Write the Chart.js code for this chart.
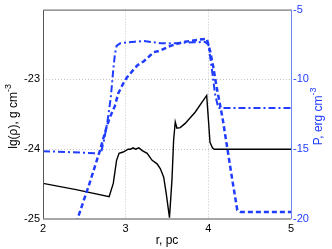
<!DOCTYPE html>
<html>
<head>
<meta charset="utf-8">
<script src="https://cdn.jsdelivr.net/npm/chart.js@4/dist/chart.umd.min.js"></script>
<style>
  body { margin: 0; background: #fff; }
  canvas { display: block; }
</style>
</head>
<body>
<canvas id="chart" width="332" height="249"></canvas>
<script>
// Density profile, lg(rho) vs r (left axis)
const densR  = [2.00, 2.40, 2.80, 2.85, 2.89, 2.92, 2.97, 3.03, 3.06, 3.09, 3.12, 3.14, 3.16, 3.20, 3.26, 3.32, 3.38, 3.42, 3.46, 3.49, 3.53, 3.56, 3.58, 3.60, 3.62, 3.66, 3.72, 3.84, 3.98, 4.00, 4.02, 4.05, 4.07, 5.00];
const densLg = [-24.49, -24.58, -24.68, -24.49, -24.16, -24.06, -24.04, -24.00, -24.00, -23.98, -24.00, -23.99, -23.98, -24.02, -24.06, -24.16, -24.21, -24.28, -24.40, -24.63, -24.98, -24.44, -23.87, -23.61, -23.70, -23.69, -23.63, -23.47, -23.23, -23.56, -23.90, -23.98, -24.00, -24.00];

// Pressure, dashed curve (right axis)
const dashR = [2.40, 2.56, 2.69, 2.77, 2.81, 2.87, 2.91, 2.97, 3.01, 3.07, 3.14, 3.22, 3.34, 3.42, 3.52, 3.62, 3.72, 3.82, 3.90, 3.98, 4.02, 4.06, 4.10, 4.17, 4.23, 4.29, 4.35, 4.39, 5.00];
const dashP = [-20.3, -17.5, -15.07, -13.4, -12.7, -11.9, -11.0, -10.3, -9.9, -9.48, -9.0, -8.7, -8.05, -7.93, -7.65, -7.45, -7.3, -7.21, -7.15, -7.09, -7.93, -9.12, -10.55, -12.7, -14.95, -17.2, -19.36, -19.5, -19.5];

// Pressure, dash-dot curve (right axis)
const dotR = [2.00, 2.35, 2.70, 2.74, 2.78, 2.82, 2.85, 2.87, 2.89, 2.93, 3.01, 3.11, 3.22, 3.32, 3.42, 3.52, 3.62, 3.72, 3.82, 3.96, 4.00, 4.04, 4.08, 4.12, 5.00];
const dotP = [-15.14, -15.22, -15.3, -14.3, -13.0, -11.3, -9.3, -8.2, -7.6, -7.42, -7.36, -7.30, -7.25, -7.33, -7.41, -7.42, -7.41, -7.36, -7.34, -7.32, -7.5, -9.12, -11.0, -12.05, -12.05];

const xTicks = [2, 3, 4, 5];
const leftTicks = [-25, -24, -23];
const rightTicks = [-20, -15, -10, -5];

const BLUE = '#1f3cff';
const FONT = '"Liberation Sans", Arial, sans-serif';

function pts(xs, ys) {
    return xs.map((x, i) => ({ x: x, y: ys[i] }));
}

function gridColor(ends) {
    return ctx => (ctx.tick && ends.includes(ctx.tick.value)) ? 'rgba(0,0,0,0)' : '#c4c4c4';
}

// frame and axis titles with superscripts
const framePlugin = {
    id: 'frame',
    afterDraw(chart) {
        const c = chart.ctx;
        const a = chart.chartArea;
        c.save();
        c.lineWidth = 1;
        c.strokeStyle = '#555';
        c.beginPath();
        c.moveTo(a.left + 0.5, a.bottom);
        c.lineTo(a.left + 0.5, a.top + 0.5);
        c.lineTo(a.right, a.top + 0.5);
        c.stroke();
        c.strokeStyle = '#8a8a8a';
        c.lineWidth = 1.5;
        c.beginPath();
        c.moveTo(a.left, a.bottom);
        c.lineTo(a.right, a.bottom);
        c.stroke();
        c.strokeStyle = '#6f86f2';
        c.lineWidth = 1;
        c.beginPath();
        c.moveTo(a.right + 0.5, a.top);
        c.lineTo(a.right + 0.5, a.bottom);
        c.stroke();

        const midY = (a.top + a.bottom) / 2;
        drawVTitle(c, 'lg(\u03c1), g cm', '-3', 17, midY + 2, '#000');
        drawVTitle(c, 'P, erg cm', '-3', 322, midY + 2, BLUE);

        c.fillStyle = '#000';
        c.font = '12px ' + FONT;
        c.textAlign = 'center';
        c.textBaseline = 'alphabetic';
        c.fillText('r, pc', (a.left + a.right) / 2, 244);
        c.restore();
    }
};

function drawVTitle(c, main, sup, x, cy, color) {
    c.save();
    c.font = '12px ' + FONT;
    const w1 = c.measureText(main).width;
    c.font = '9px ' + FONT;
    const w2 = c.measureText(sup).width;
    const total = w1 + w2;
    c.translate(x, cy);
    c.rotate(-Math.PI / 2);
    c.fillStyle = color;
    c.textAlign = 'left';
    c.textBaseline = 'alphabetic';
    c.font = '12px ' + FONT;
    c.fillText(main, -total / 2, 0);
    c.font = '9px ' + FONT;
    c.fillText(sup, -total / 2 + w1, -6);
    c.restore();
}

new Chart(document.getElementById('chart'), {
    type: 'line',
    data: {
        datasets: [
            {
                label: 'P dash-dot',
                data: pts(dotR, dotP),
                yAxisID: 'y1',
                borderColor: BLUE,
                borderWidth: 2,
                borderDash: [7, 3, 2, 3],
                pointRadius: 0,
                fill: false,
                order: 0
            },
            {
                label: 'P dashed',
                data: pts(dashR, dashP),
                yAxisID: 'y1',
                borderColor: BLUE,
                borderWidth: 2.5,
                borderDash: [5, 3],
                pointRadius: 0,
                fill: false,
                order: 1
            },
            {
                label: 'lg rho',
                data: pts(densR, densLg),
                yAxisID: 'y',
                borderColor: '#000',
                borderWidth: 1.4,
                pointRadius: 0,
                fill: false,
                order: 2
            }
        ]
    },
    options: {
        responsive: false,
        animation: false,
        events: [],
        layout: { padding: { top: 9, left: 0, right: 0, bottom: 0 } },
        plugins: {
            legend: { display: false },
            tooltip: { enabled: false }
        },
        scales: {
            x: {
                type: 'linear',
                min: 2,
                max: 5,
                afterFit: s => { s.height = 30; },
                afterBuildTicks: s => { s.ticks = xTicks.map(v => ({ value: v })); },
                ticks: {
                    color: '#000',
                    font: { family: FONT, size: 11 },
                    padding: 3,
                    maxRotation: 0
                },
                grid: { color: gridColor([2, 5]), drawTicks: false, lineWidth: 1 },
                border: { display: false, dash: [1, 2] }
            },
            y: {
                type: 'linear',
                position: 'left',
                min: -25,
                max: -22,
                afterFit: s => { s.width = 43; },
                afterBuildTicks: s => { s.ticks = leftTicks.concat([-22]).map(v => ({ value: v })); },
                ticks: {
                    color: '#000',
                    font: { family: FONT, size: 11 },
                    padding: 3,
                    callback: v => leftTicks.includes(v) ? String(v) : ''
                },
                grid: { color: gridColor([-25, -22]), drawTicks: false, lineWidth: 1 },
                border: { display: false, dash: [1, 2] }
            },
            y1: {
                type: 'linear',
                position: 'right',
                min: -20,
                max: -5,
                afterFit: s => { s.width = 41; },
                afterBuildTicks: s => { s.ticks = rightTicks.map(v => ({ value: v })); },
                ticks: {
                    color: BLUE,
                    font: { family: FONT, size: 11 },
                    padding: 2
                },
                grid: { display: false, drawTicks: false },
                border: { display: false }
            }
        }
    },
    plugins: [framePlugin]
});
</script>
</body>
</html>
